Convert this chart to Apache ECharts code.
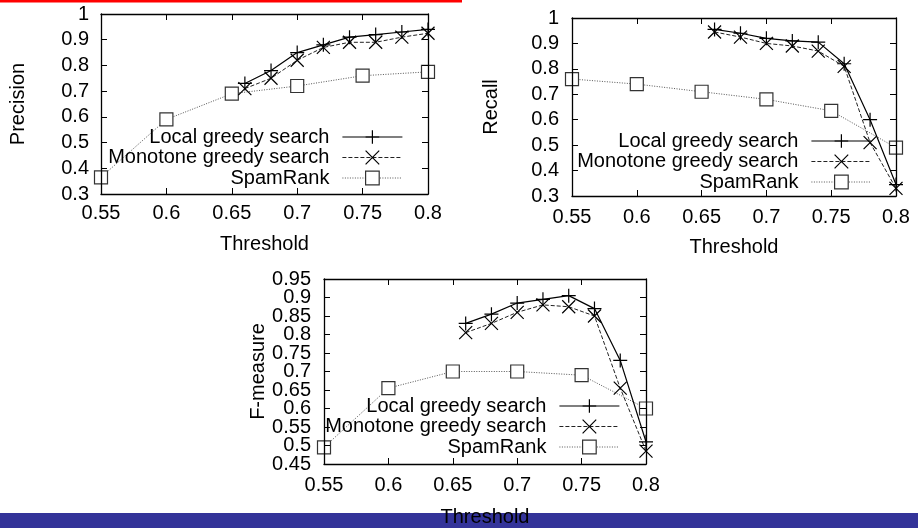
<!DOCTYPE html>
<html>
<head>
<meta charset="utf-8">
<script src="https://cdn.jsdelivr.net/npm/echarts@6/dist/echarts.min.js"></script>
<style>
  html, body { margin: 0; padding: 0; background: #ffffff; }
  #chart { width: 918px; height: 528px; }
</style>
</head>
<body>
<div id="chart"></div>
<script>
// Thresholds at which each method was evaluated
const thresholdsGreedy = [0.66, 0.68, 0.70, 0.72, 0.74, 0.76, 0.78, 0.80];
const thresholdsSpam = [0.55, 0.60, 0.65, 0.70, 0.75, 0.80];

const seriesNames = ['Local greedy search', 'Monotone greedy search', 'SpamRank'];

// Precision
const precisionLocal = [0.73, 0.78, 0.85, 0.88, 0.91, 0.92, 0.93, 0.94];
const precisionMonotone = [0.71, 0.75, 0.82, 0.87, 0.89, 0.89, 0.91, 0.925];
const precisionSpam = [0.365, 0.59, 0.69, 0.72, 0.76, 0.775];

// Recall
const recallLocal = [0.955, 0.94, 0.92, 0.91, 0.905, 0.82, 0.60, 0.345];
const recallMonotone = [0.945, 0.925, 0.90, 0.89, 0.87, 0.81, 0.51, 0.33];
const recallSpam = [0.76, 0.74, 0.71, 0.68, 0.635, 0.49];

// F-measure
const fLocal = [0.83, 0.855, 0.885, 0.895, 0.905, 0.87, 0.73, 0.51];
const fMonotone = [0.805, 0.83, 0.86, 0.88, 0.875, 0.85, 0.655, 0.485];
const fSpam = [0.495, 0.655, 0.70, 0.70, 0.69, 0.60];

// Axis ranges: [min, max, interval]
const xRange = [0.55, 0.80, 0.05];
const precisionRange = [0.3, 1.0, 0.1];
const recallRange = [0.3, 1.0, 0.1];
const fRange = [0.45, 0.95, 0.05];

const FONT = '"Liberation Sans", Arial, Helvetica, sans-serif';

const panels = [
  {
    grid: { left: 101, top: 14, width: 327, height: 180 },
    yName: 'Precision', yRange: precisionRange,
    yNameGap: 73, xNameGap: 40, xLabelMargin: 12, yLabelMargin: 12,
    legend: { right: 515, top: 127 },
    values: [precisionLocal, precisionMonotone, precisionSpam]
  },
  {
    grid: { left: 572, top: 18, width: 324, height: 178 },
    yName: 'Recall', yRange: recallRange,
    yNameGap: 71, xNameGap: 41, xLabelMargin: 14, yLabelMargin: 13,
    legend: { right: 46, top: 131 },
    values: [recallLocal, recallMonotone, recallSpam]
  },
  {
    grid: { left: 324, top: 279, width: 322, height: 185 },
    yName: 'F-measure', yRange: fRange,
    yNameGap: 56, xNameGap: 43, xLabelMargin: 14, yLabelMargin: 13,
    legend: { right: 298, top: 396 },
    values: [fLocal, fMonotone, fSpam]
  }
];

const PLUS = 'path://M7,0V14M0,7H14';
const CROSS = 'path://M0,0L14,14M14,0L0,14';

const styles = [
  { symbol: PLUS, symbolSize: 14, line: { color: '#000', width: 1.2, type: 'solid' },
    item: { color: 'rgba(0,0,0,0)', borderColor: '#000', borderWidth: 1.2 } },
  { symbol: CROSS, symbolSize: 13, line: { color: '#222', width: 1, type: [4, 2] },
    item: { color: 'rgba(0,0,0,0)', borderColor: '#000', borderWidth: 1.2 } },
  { symbol: 'rect', symbolSize: 13, line: { color: '#555', width: 1, type: [1, 1.5] },
    item: { color: '#fff', borderColor: '#333', borderWidth: 1.2 } }
];

const frameLine = { show: true, onZero: false, lineStyle: { color: '#000', width: 1.3 } };
const tick = { show: true, inside: true, length: 6, lineStyle: { color: '#000', width: 1 } };
const labelText = { fontFamily: FONT, fontSize: 20, color: '#000' };
const near = (a, b) => Math.abs(a - b) < 1e-9;

const grids = [], xAxes = [], yAxes = [], series = [], legends = [];

panels.forEach((p, i) => {
  grids.push(Object.assign({ containLabel: false }, p.grid));
  const [xmin, xmax, xstep] = xRange;
  const [ymin, ymax, ystep] = p.yRange;

  xAxes.push({
    type: 'value', gridIndex: i, position: 'bottom', z: 10,
    min: xmin, max: xmax, interval: xstep,
    axisLine: frameLine, axisTick: tick, splitLine: { show: false },
    axisLabel: Object.assign({ margin: p.xLabelMargin, lineHeight: 14, showMinLabel: true, showMaxLabel: true }, labelText),
    name: 'Threshold', nameLocation: 'middle', nameGap: p.xNameGap,
    nameTextStyle: Object.assign({ lineHeight: 20 }, labelText)
  });
  // Inner tick labels (end labels are drawn by a companion axis below)
  yAxes.push({
    type: 'value', gridIndex: i, position: 'left', z: 10,
    min: ymin, max: ymax, interval: ystep,
    axisLine: frameLine, axisTick: tick, splitLine: { show: false },
    axisLabel: Object.assign({ margin: p.yLabelMargin, lineHeight: 14, showMinLabel: false, showMaxLabel: false }, labelText),
    name: p.yName, nameLocation: 'middle', nameGap: p.yNameGap,
    nameTextStyle: Object.assign({ lineHeight: 20 }, labelText)
  });
  series.push(
    ...p.values.map((vals, k) => {
      const xs = k < 2 ? thresholdsGreedy : thresholdsSpam;
      const s = styles[k];
      return {
        type: 'line', name: seriesNames[k],
        xAxisIndex: i, yAxisIndex: i,
        data: xs.map((x, j) => [x, vals[j]]),
        symbol: s.symbol, symbolSize: s.symbolSize, showAllSymbol: true,
        lineStyle: s.line, itemStyle: s.item,
        clip: false, silent: true, z: 3 + (2 - k),
        emphasis: { disabled: true }
      };
    })
  );
  legends.push({
    data: seriesNames, orient: 'vertical', align: 'right',
    right: p.legend.right, top: p.legend.top, padding: 0,
    itemWidth: 60, itemHeight: 17, itemGap: 0.5, selectedMode: false,
    lineStyle: { width: 'inherit' }, itemStyle: { borderWidth: 'inherit' },
    textStyle: Object.assign({ lineHeight: 20, padding: [0, 8, 0, 0] }, labelText)
  });
});

panels.forEach((p, i) => {
  const [xmin, xmax, xstep] = xRange;
  const [ymin, ymax, ystep] = p.yRange;
  // Mirrored ticks on the top and right edges of every frame
  xAxes.push({
    type: 'value', gridIndex: i, position: 'top', z: 10,
    min: xmin, max: xmax, interval: xstep,
    axisLine: frameLine, axisTick: tick, axisLabel: { show: false }, splitLine: { show: false }
  });
  yAxes.push({
    type: 'value', gridIndex: i, position: 'right', z: 10,
    min: ymin, max: ymax, interval: ystep,
    axisLine: frameLine, axisTick: tick, axisLabel: { show: false }, splitLine: { show: false }
  });
  // End labels of the y axis (lowest and highest tick)
  yAxes.push({
    type: 'value', gridIndex: i, position: 'left', z: 10,
    min: ymin, max: ymax, interval: ystep,
    axisLine: { show: false }, axisTick: { show: false }, splitLine: { show: false },
    axisLabel: Object.assign({
      margin: p.yLabelMargin, lineHeight: 14, showMinLabel: true, showMaxLabel: true,
      formatter: v => (near(v, ymin) || near(v, ymax)) ? String(+v.toFixed(4)) : ''
    }, labelText)
  });
});

const chart = echarts.init(document.getElementById('chart'), null, { renderer: 'canvas' });
chart.setOption({
  animation: false,
  backgroundColor: '#ffffff',
  grid: grids,
  xAxis: xAxes,
  yAxis: yAxes,
  legend: legends,
  series: series,
  graphic: [
    { type: 'rect', left: 0, top: 0, z: 0, shape: { width: 462, height: 2.5 }, style: { fill: '#ff0000' } },
    { type: 'rect', left: 0, top: 513, z: 0, shape: { width: 918, height: 15 }, style: { fill: '#333399' } }
  ]
});
</script>
</body>
</html>
